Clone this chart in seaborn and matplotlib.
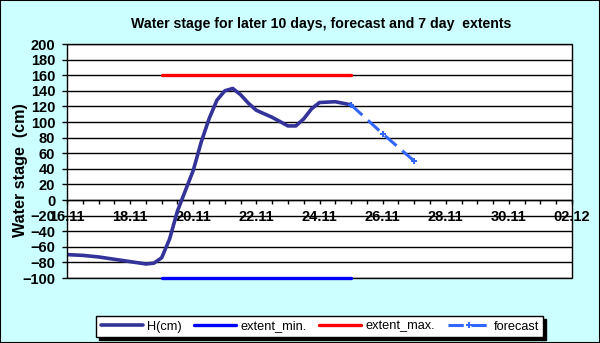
import pandas as pd
import numpy as np
import matplotlib
matplotlib.use("Agg")
import matplotlib.pyplot as plt
import matplotlib.dates as mdates
import seaborn as sns
from matplotlib.patches import Rectangle

h_time = ["2023-11-16 00:00", "2023-11-16 12:00", "2023-11-17 00:00", "2023-11-17 12:00",
          "2023-11-18 00:00", "2023-11-18 12:00", "2023-11-18 18:00", "2023-11-19 00:00",
          "2023-11-19 06:00", "2023-11-19 12:00", "2023-11-19 18:00", "2023-11-20 00:00",
          "2023-11-20 06:00", "2023-11-20 12:00", "2023-11-20 18:00", "2023-11-21 00:00",
          "2023-11-21 06:00", "2023-11-21 12:00", "2023-11-21 18:00", "2023-11-22 00:00",
          "2023-11-22 12:00", "2023-11-23 00:00", "2023-11-23 06:00", "2023-11-23 12:00",
          "2023-11-23 18:00", "2023-11-24 00:00", "2023-11-24 12:00", "2023-11-25 00:00"]
h_cm = [-70, -71, -73, -76, -79, -82, -81, -74, -50, -14, 12, 38, 74, 104,
        128, 140, 143, 135, 124, 115, 106, 95, 95, 104, 117, 125, 126, 122]

# Forecast
fc_time = ["2023-11-25", "2023-11-26", "2023-11-27"]
fc_cm = [122, 85, 50]

# 7 day extents
ext_time = ["2023-11-19", "2023-11-25"]
ext_min = [-100, -100]
ext_max = [160, 160]

x_start, x_end = "2023-11-16", "2023-12-02"
y_ticks = list(range(-100, 201, 20))

sns.set_theme(style="white")
plt.rcParams["font.family"] = ["Liberation Sans", "DejaVu Sans"]

bg = "#CCFFFF"
fig = plt.figure(figsize=(6.0, 3.43), dpi=100, facecolor=bg)
ax = fig.add_axes([0.1117, 0.1895, 0.8416, 0.6822])
ax.set_facecolor("white")

h = pd.DataFrame({"t": pd.to_datetime(h_time), "v": h_cm})
fc = pd.DataFrame({"t": pd.to_datetime(fc_time), "v": fc_cm})
ext = pd.DataFrame({"t": pd.to_datetime(ext_time), "lo": ext_min, "hi": ext_max})

sns.lineplot(data=h, x="t", y="v", ax=ax, color="#333399", lw=2.6, label="H(cm)", zorder=4)
sns.lineplot(data=ext, x="t", y="lo", ax=ax, color="#0000FF", lw=2.4, label="extent_min.",
             zorder=8, clip_on=False)
sns.lineplot(data=ext, x="t", y="hi", ax=ax, color="#FF0000", lw=2.4, label="extent_max.", zorder=3)
sns.lineplot(data=fc, x="t", y="v", ax=ax, color="#3366FF", lw=2.2, ls=(0, (5, 2.5)),
             marker="P", markersize=5, mew=0, label="forecast", zorder=5)

ax.set_xlim(pd.Timestamp(x_start), pd.Timestamp(x_end))
ax.set_ylim(-100, 200)
ax.set_yticks(y_ticks)
ax.yaxis.grid(True, color="black", lw=1.0)
ax.xaxis.grid(False)

# x axis crosses at zero, like the spreadsheet original
ax.spines["bottom"].set_position(("data", 0))
ax.spines["bottom"].set_color("black")
ax.spines["bottom"].set_linewidth(1.0)
for s in ["top", "right", "left"]:
    ax.spines[s].set_visible(False)
ax.add_patch(Rectangle((0, 0), 1, 1, transform=ax.transAxes, fill=False,
                       ec="black", lw=1.0, clip_on=False, zorder=6))

ax.xaxis.set_major_locator(mdates.DayLocator(interval=2))
ax.xaxis.set_minor_locator(mdates.HourLocator(byhour=[0, 12]))
ax.xaxis.set_major_formatter(mdates.DateFormatter("%d.%m"))
ax.tick_params(axis="x", which="both", bottom=True, direction="out", length=3,
               width=1, color="black", pad=4)
ax.tick_params(axis="x", labelsize=10.5)
ax.tick_params(axis="y", left=True, direction="out", length=3.5, width=1,
               color="black", labelsize=10.5, pad=5)
for lab in ax.get_xticklabels() + ax.get_yticklabels():
    lab.set_fontweight("bold")
    lab.set_color("black")

ax.set_xlabel("")
ax.set_ylabel("Water stage  (cm)", fontsize=11.6, fontweight="bold", color="black")
ax.yaxis.set_label_coords(-0.077, 0.46)
fig.text(0.535, 0.93, "Water stage for later 10 days, forecast and 7 day  extents",
         ha="center", va="center", fontsize=10.2, fontweight="bold", color="black")

handles, labels = ax.get_legend_handles_labels()
ax.get_legend().remove()
leg = fig.legend(handles, labels, loc="center", bbox_to_anchor=(0.533, 0.048), ncol=4,
                 frameon=True, fancybox=False, shadow={"color": "black", "alpha": 1},
                 fontsize=9.2, handlelength=3.3, columnspacing=1.0, handletextpad=0.3,
                 borderpad=0.35, edgecolor="black", framealpha=1)
leg.get_frame().set_linewidth(1.0)
for t in leg.get_texts():
    t.set_color("black")

fig.add_artist(Rectangle((0, 0), 1, 1, transform=fig.transFigure, fill=False,
                         ec="black", lw=1.5))

fig.savefig("out.png", dpi=100, facecolor=bg)
